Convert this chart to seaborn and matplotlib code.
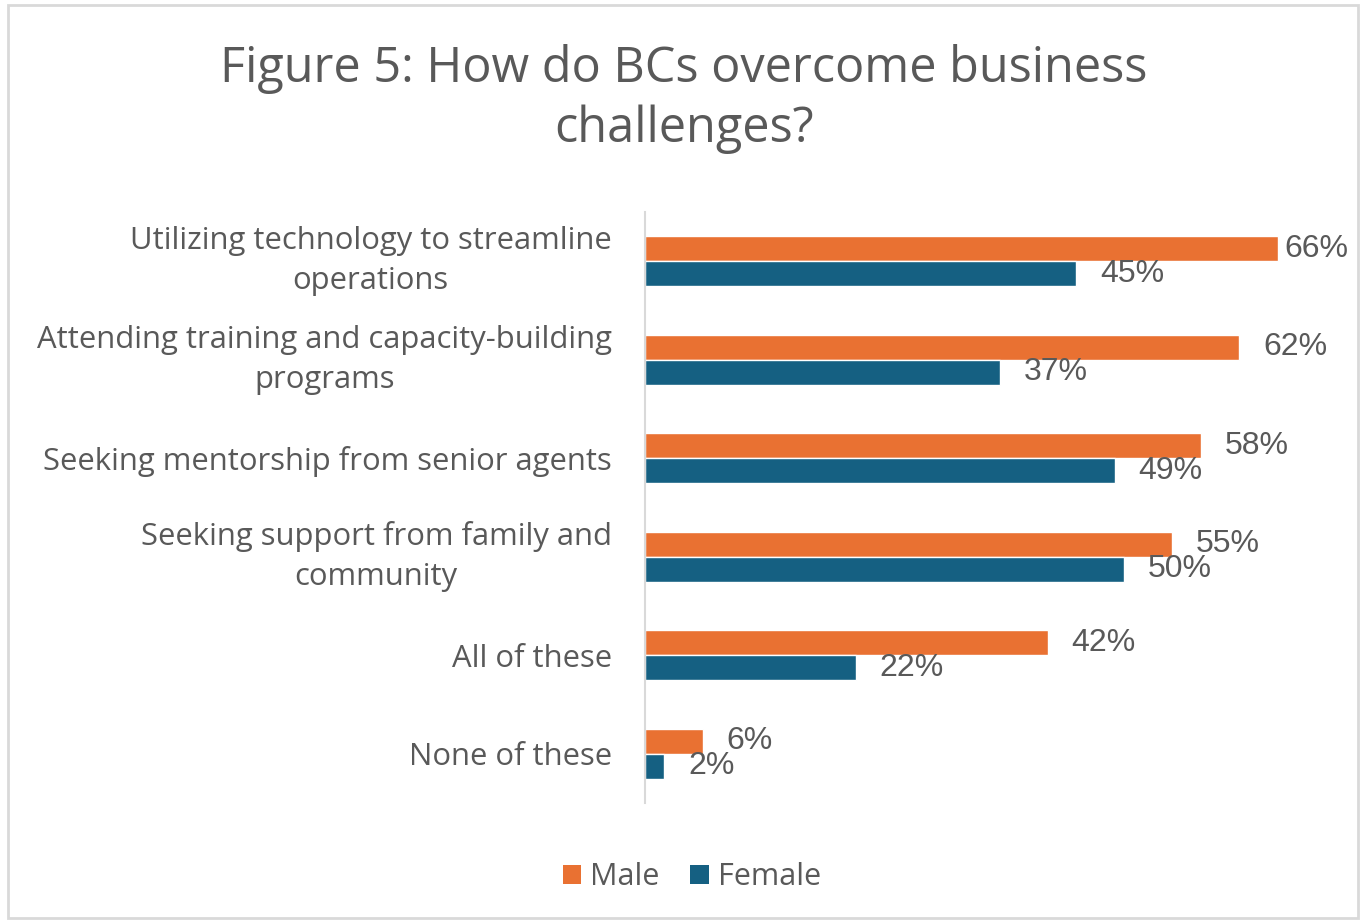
import matplotlib
matplotlib.use("Agg")
import matplotlib.pyplot as plt
from matplotlib.patches import Patch, Rectangle
import seaborn as sns
import pandas as pd

categories = [
    "Utilizing technology to streamline\noperations",
    "Attending training and capacity-building\nprograms",
    "Seeking mentorship from senior agents",
    "Seeking support from family and\ncommunity",
    "All of these",
    "None of these",
]
male = [66, 62, 58, 55, 42, 6]
female = [45, 37, 49, 50, 22, 2]
groups = ["Male", "Female"]
colors = {"Male": "#E97132", "Female": "#156082"}

df = pd.DataFrame({
    "category": categories * 2,
    "group": ["Male"] * len(categories) + ["Female"] * len(categories),
    "value": male + female,
})

sns.set_theme(style="white")
plt.rcParams["font.family"] = ["Open Sans", "DejaVu Sans"]
text_color = "#595959"

fig = plt.figure(figsize=(13.65, 9.23), dpi=100)
fig.patch.set_facecolor("white")
fig.add_artist(Rectangle((8 / 1365, 5 / 923), 1350 / 1365, 913 / 923,
                         transform=fig.transFigure, fill=False,
                         edgecolor="#d9d9d9", linewidth=2))

ax = fig.add_axes([645 / 1365, 1 - 803 / 923, 671 / 1365, 591 / 923])
sns.barplot(data=df, y="category", x="value", hue="group", hue_order=groups,
            order=categories, palette=colors, orient="h", width=0.51,
            gap=0, dodge=True, legend=False, ax=ax, saturation=1)

ax.set_xlim(0, 70)
ax.set_xlabel("")
ax.set_ylabel("")
ax.set_xticks([])
for s in ["top", "right", "bottom"]:
    ax.spines[s].set_visible(False)
ax.spines["left"].set_color("#d9d9d9")
ax.spines["left"].set_linewidth(1.5)
ax.tick_params(axis="y", length=0, pad=24, labelsize=22.3, labelcolor=text_color)
for lbl in ax.get_yticklabels():
    lbl.set_multialignment("center")
    lbl.set_linespacing(1.45)
    if "\n" in lbl.get_text():
        lbl.set_verticalalignment("center")

# value labels at the end of each bar
for container, grp in zip(ax.containers, groups):
    for bar in container:
        w = bar.get_width()
        y = bar.get_y() + bar.get_height() / 2
        x = min(w + 2.5, 66.7)
        ax.text(x, y, f"{w:.0f}%", va="center", ha="left",
                fontsize=23, color=text_color, family=["Liberation Sans"])

fig.text(684 / 1365, 1 - 99 / 923,
         "Figure 5: How do BCs overcome business\nchallenges?",
         ha="center", va="center", multialignment="center",
         fontsize=35, color=text_color, linespacing=1.3)

handles = [Patch(facecolor=colors[g], edgecolor="none", label=g) for g in groups]
fig.legend(handles=handles, loc="center", bbox_to_anchor=(692 / 1365, 1 - 877 / 923),
           ncol=2, frameon=False, fontsize=22, handlelength=0.6, handleheight=0.6,
           handletextpad=0.3, columnspacing=1.0, labelcolor=text_color)

fig.savefig("out.png", dpi=100, facecolor="white")
